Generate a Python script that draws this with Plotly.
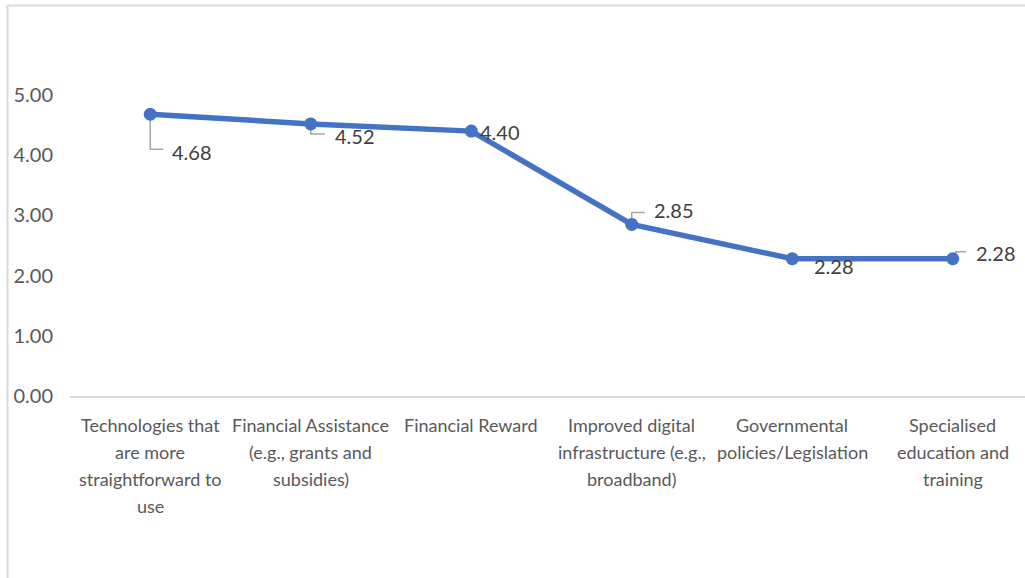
import plotly.graph_objects as go

categories = [
    "Technologies that<br>are more<br>straightforward to<br>use",
    "Financial Assistance<br>(e.g., grants and<br>subsidies)",
    "Financial Reward",
    "Improved digital<br>infrastructure (e.g.,<br>broadband)",
    "Governmental<br>policies/Legislation",
    "Specialised<br>education and<br>training",
]
values = [4.68, 4.52, 4.40, 2.85, 2.28, 2.28]
y_ticks = [0, 1, 2, 3, 4, 5]

# label placement (pixel offsets from each point) and leader lines
label_shift = [(20, -38), (22, -12), (7, -1), (20, 14), (20, -7), (21, 6)]
leaders = [
    "M 0,-6 L 0,-35 L 13,-35",
    "M 0,-5 L 0,-10 L 14,-10",
    None,
    "M 0,6 L 0,12 L 13,12",
    None,
    "M 3,3 L 3,7 L 13,7",
]

xs = list(range(len(values)))
FONT = "Lato, Carlito, Calibri, 'Liberation Sans', sans-serif"

fig = go.Figure()
fig.add_trace(go.Scatter(
    x=xs, y=values, mode="lines+markers",
    line=dict(color="#4472C4", width=5.5),
    marker=dict(color="#4472C4", size=13),
    hoverinfo="skip", showlegend=False,
))

annotations = []
shapes = []
for i, v in enumerate(values):
    dx, dy = label_shift[i]
    annotations.append(dict(
        x=i, y=v, xref="x", yref="y", text=f"{v:.2f}", showarrow=False,
        xanchor="left", yanchor="middle", xshift=dx, yshift=dy,
        font=dict(family=FONT, size=20, color="#404040"),
    ))
    if leaders[i]:
        shapes.append(dict(
            type="path", xref="x", yref="y", xsizemode="pixel", ysizemode="pixel",
            xanchor=i, yanchor=v, path=leaders[i],
            line=dict(color="#A6A6A6", width=1.5), layer="below",
        ))

# category labels, one text line per annotation (to match line spacing)
for i, cat in enumerate(categories):
    for k, line in enumerate(cat.split("<br>")):
        annotations.append(dict(
            x=i, y=0, xref="x", yref="y", text=line, showarrow=False,
            xanchor="center", yanchor="middle", yshift=-(29 + 27 * k),
            font=dict(family=FONT, size=18, color="#595959"),
        ))

# chart frame (left and top border)
L, T, B = 70, 95, 182
W, H = 1025, 578
pw, ph = W - L, H - T - B
px = lambda p: (p - L) / pw
py = lambda p: (H - B - p) / ph
shapes.append(dict(type="line", xref="paper", yref="paper",
                   x0=px(7.5), x1=px(7.5), y0=py(5.5), y1=py(578),
                   line=dict(color="#D9D9D9", width=2)))
shapes.append(dict(type="line", xref="paper", yref="paper",
                   x0=px(7.5), x1=px(1025), y0=py(5.5), y1=py(5.5),
                   line=dict(color="#D9D9D9", width=2)))

fig.update_layout(
    width=W, height=H,
    margin=dict(l=L, r=0, t=T, b=B),
    paper_bgcolor="white", plot_bgcolor="white",
    annotations=annotations, shapes=shapes,
    font=dict(family=FONT, color="#595959"),
)
fig.update_xaxes(
    range=[-0.5, 5.45], tickmode="array", tickvals=xs, showticklabels=False,
    showgrid=False, zeroline=False, showline=True, linecolor="#D9D9D9", linewidth=1.5,
    ticks="",
)
fig.update_yaxes(
    range=[0, 5], tickmode="array", tickvals=y_ticks, ticktext=[f"{t:.2f}" for t in y_ticks],
    showgrid=False, zeroline=False, showline=False, ticks="", ticklabelstandoff=16,
    tickfont=dict(family=FONT, size=20, color="#595959"),
)

fig.write_html("out.html")
